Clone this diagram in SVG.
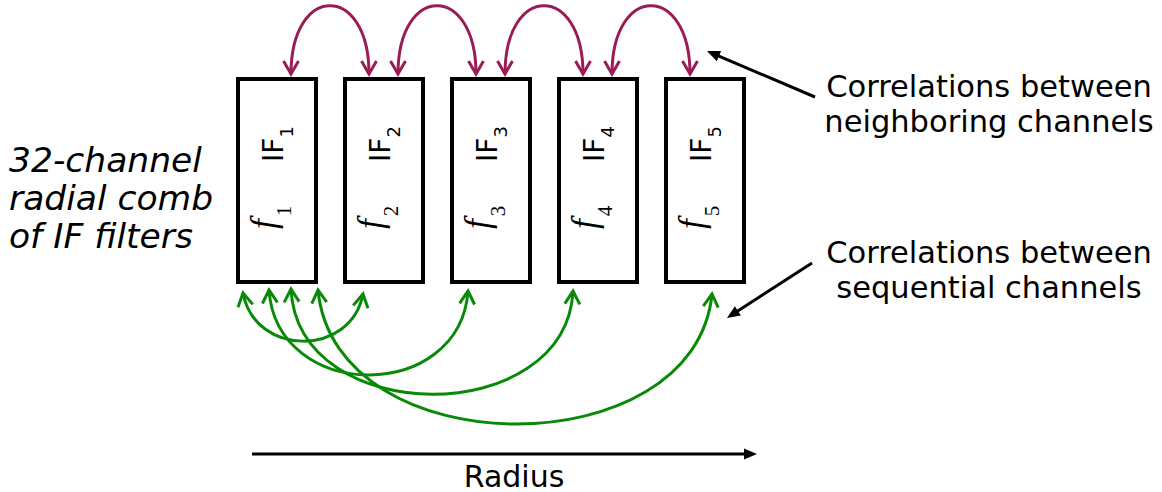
<svg xmlns="http://www.w3.org/2000/svg" width="1162" height="492" viewBox="0 0 1162 492">
<style>
.box{fill:#fff;stroke:#000;stroke-width:4}
.lbl{font-family:"DejaVu Sans","Verdana",sans-serif;fill:#000}
.ift{font-family:"DejaVu Sans",sans-serif;font-size:28px;fill:#000}
.fv{font-family:"Liberation Serif","Times New Roman",serif;font-style:italic;font-size:35px;fill:#000}
.sub{font-style:normal;font-size:21px}
.isub{font-size:18px}
.mag{fill:none;stroke:#9b1b56;stroke-width:3;marker-start:url(#vm);marker-end:url(#vm)}
.grn{fill:none;stroke:#088a08;stroke-width:3;marker-start:url(#vg);marker-end:url(#vg)}
.blk{fill:none;stroke:#000;stroke-width:3;marker-end:url(#tb)}
</style>
<defs>
<marker id="vm" markerUnits="userSpaceOnUse" orient="auto-start-reverse" refX="0" refY="0" markerWidth="30" markerHeight="30" viewBox="-20 -15 30 30" overflow="visible">
<path d="M-13,-7.5 L0,0 L-13,7.5" fill="none" stroke="#9b1b56" stroke-width="3"/>
</marker>
<marker id="vg" markerUnits="userSpaceOnUse" orient="auto-start-reverse" refX="0" refY="0" markerWidth="30" markerHeight="30" viewBox="-20 -15 30 30" overflow="visible">
<path d="M-13,-7.5 L0,0 L-13,7.5" fill="none" stroke="#088a08" stroke-width="3"/>
</marker>
<marker id="tb" markerUnits="userSpaceOnUse" orient="auto" refX="2" refY="0" markerWidth="30" markerHeight="30" viewBox="-15 -15 30 30" overflow="visible">
<path d="M0,-5.5 L13,0 L0,5.5 Z" fill="#000"/>
</marker>
</defs>

<g id="box1">
<rect class="box" x="238" y="79" width="78" height="203"/>
<text class="ift" transform="translate(283,144) rotate(-90)" text-anchor="middle">IF<tspan class="isub" dy="10">1</tspan></text>
<text class="fv" transform="translate(275,229) rotate(-90)">f<tspan class="sub" dx="3" dy="16">1</tspan></text>
</g>
<g id="box2">
<rect class="box" x="345" y="79" width="78" height="203"/>
<text class="ift" transform="translate(390,144) rotate(-90)" text-anchor="middle">IF<tspan class="isub" dy="10">2</tspan></text>
<text class="fv" transform="translate(382,229) rotate(-90)">f<tspan class="sub" dx="3" dy="16">2</tspan></text>
</g>
<g id="box3">
<rect class="box" x="452" y="79" width="78" height="203"/>
<text class="ift" transform="translate(497,144) rotate(-90)" text-anchor="middle">IF<tspan class="isub" dy="10">3</tspan></text>
<text class="fv" transform="translate(489,229) rotate(-90)">f<tspan class="sub" dx="3" dy="16">3</tspan></text>
</g>
<g id="box4">
<rect class="box" x="559" y="79" width="78" height="203"/>
<text class="ift" transform="translate(604,144) rotate(-90)" text-anchor="middle">IF<tspan class="isub" dy="10">4</tspan></text>
<text class="fv" transform="translate(596,229) rotate(-90)">f<tspan class="sub" dx="3" dy="16">4</tspan></text>
</g>
<g id="box5">
<rect class="box" x="666" y="79" width="78" height="203"/>
<text class="ift" transform="translate(711,144) rotate(-90)" text-anchor="middle">IF<tspan class="isub" dy="10">5</tspan></text>
<text class="fv" transform="translate(703,229) rotate(-90)">f<tspan class="sub" dx="3" dy="16">5</tspan></text>
</g>

<g id="label-comb" class="lbl" font-size="34.5" font-style="italic">
<text x="9" y="172">32-channel</text>
<text x="9" y="210">radial comb</text>
<text x="9" y="248">of IF filters</text>
</g>
<g id="label-neighbor" class="lbl" font-size="30.5" text-anchor="middle">
<text x="989" y="97">Correlations between</text>
<text x="989" y="132">neighboring channels</text>
</g>
<g id="label-seq" class="lbl" font-size="30.5" text-anchor="middle">
<text x="989" y="263">Correlations between</text>
<text x="989" y="298">sequential channels</text>
</g>
<g id="label-radius" class="lbl" font-size="30" text-anchor="middle">
<text x="514" y="487">Radius</text>
</g>

<g id="connectors">
<path class="mag" d="M291,74 C291,-17 369,-17 369,74"/>
<path class="mag" d="M398,74 C398,-17 476,-17 476,74"/>
<path class="mag" d="M505,74 C505,-17 583,-17 583,74"/>
<path class="mag" d="M612,74 C612,-17 690,-17 690,74"/>
<path class="grn" d="M243,293 C255,357 351,357 363,294"/>
<path class="grn" d="M269,290 C277,403 460,403 468,291"/>
<path class="grn" d="M291,289 C298,429 566,429 573,291"/>
<path class="grn" d="M318,290 C335,468 695,468 712,294"/>
<path class="blk" d="M815,97 L717.1,55.3"/>
<path class="blk" d="M812,263 L736.2,312"/>
<path class="blk" d="M252,454 L746,454"/>
</g>
</svg>
